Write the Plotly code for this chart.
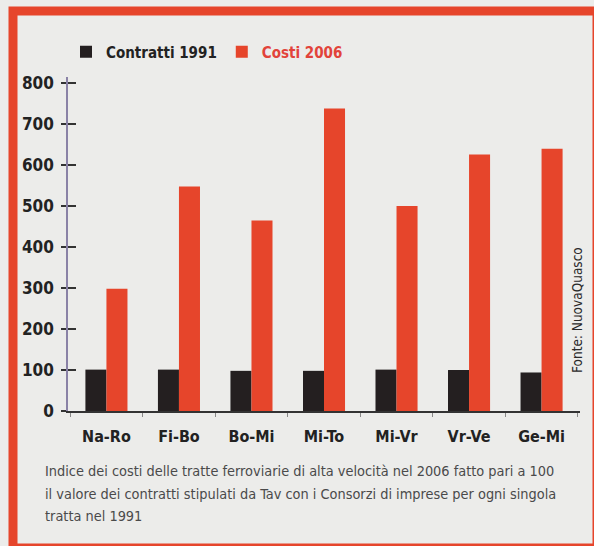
import plotly.graph_objects as go

tratte = ["Na-Ro", "Fi-Bo", "Bo-Mi", "Mi-To", "Mi-Vr", "Vr-Ve", "Ge-Mi"]
contratti_1991 = [101, 101, 98, 98, 101, 100, 94]
costi_2006 = [298, 548, 465, 738, 500, 626, 640]
y_ticks = [0, 100, 200, 300, 400, 500, 600, 700, 800]

caption_lines = [
    "Indice dei costi delle tratte ferroviarie di alta velocità nel 2006 fatto pari a 100",
    "il valore dei contratti stipulati da Tav con i Consorzi di imprese per ogni singola",
    "tratta nel 1991",
]
fonte = "Fonte: NuovaQuasco"

RED = "#e6452b"
BLACK = "#241f20"
BG = "#ececea"
FONT = "DejaVu Sans Condensed, Liberation Sans Narrow, sans-serif"
BAR_W = 0.29

fig = go.Figure()
fig.add_trace(go.Bar(x=tratte, y=contratti_1991, name="Contratti 1991",
                     width=BAR_W, offset=-BAR_W, yaxis="y",
                     marker=dict(color=BLACK, line=dict(width=0))))
fig.add_trace(go.Bar(x=tratte, y=costi_2006,
                     name="<span style='color:#e2433a'>Costi 2006</span>",
                     width=BAR_W, offset=0, yaxis="y2",
                     marker=dict(color=RED, line=dict(width=0))))

W, H = 594, 546
L, R, T, B = 68, 14, 77, 135
pw, ph = W - L - R, H - T - B

def px_x(p):
    return (p - L) / pw

def px_y(p):
    return (H - B - p) / ph

fig.update_layout(
    width=W, height=H,
    margin=dict(l=L, r=R, t=T, b=B),
    paper_bgcolor=BG, plot_bgcolor=BG,
    barmode="overlay",
    font=dict(family=FONT, color="#222"),
    showlegend=True,
    legend=dict(orientation="h", x=px_x(66), y=px_y(52), xanchor="left", yanchor="middle",
                font=dict(family=FONT, size=15, weight="bold", color="#222"),
                bgcolor="rgba(0,0,0,0)", itemclick=False),
    xaxis=dict(type="category", range=[-0.53, 6.53], showgrid=False,
               showline=True, linecolor="#333", linewidth=2,
               ticks="outside", tickson="boundaries", ticklen=4, tickcolor="#888", tickwidth=1,
               tickfont=dict(family=FONT, size=16, weight="bold", color="#222"),
               ticklabelstandoff=10),
    yaxis=dict(range=[0, 815], tickvals=y_ticks, showgrid=False, zeroline=False,
               showline=True, linecolor="#8a82a6", linewidth=1.5,
               ticks="outside", ticklen=5, tickwidth=2, tickcolor="#333",
               tickfont=dict(family=FONT, size=17, weight="bold", color="#222"),
               ticklabelstandoff=4),
    yaxis2=dict(range=[0, 815], overlaying="y", side="left", tickvals=y_ticks,
                showgrid=False, zeroline=False, showline=False,
                ticks="inside", ticklen=8, tickwidth=2, tickcolor="#333",
                showticklabels=False),
)

# red frame
fig.add_shape(type="rect", xref="paper", yref="paper",
              x0=px_x(13), x1=px_x(597), y0=px_y(548), y1=px_y(11),
              line=dict(color=RED, width=9), fillcolor="rgba(0,0,0,0)", layer="above")

caption_y = [471, 494, 516]
for line, yp in zip(caption_lines, caption_y):
    fig.add_annotation(text=line, xref="paper", yref="paper", x=px_x(43), y=px_y(yp),
                       xanchor="left", yanchor="middle", showarrow=False,
                       font=dict(family=FONT, size=14.4, color="#4a4a4a"))

fig.add_annotation(text=fonte, xref="paper", yref="paper", x=px_x(577), y=px_y(310),
                   xanchor="center", yanchor="middle", textangle=-90, showarrow=False,
                   font=dict(family=FONT, size=13.5, color="#2a2a2a"))

fig.write_html("out.html", config={"displayModeBar": False},
               post_script="document.body.style.margin='0';document.body.style.background='#ececea';")
